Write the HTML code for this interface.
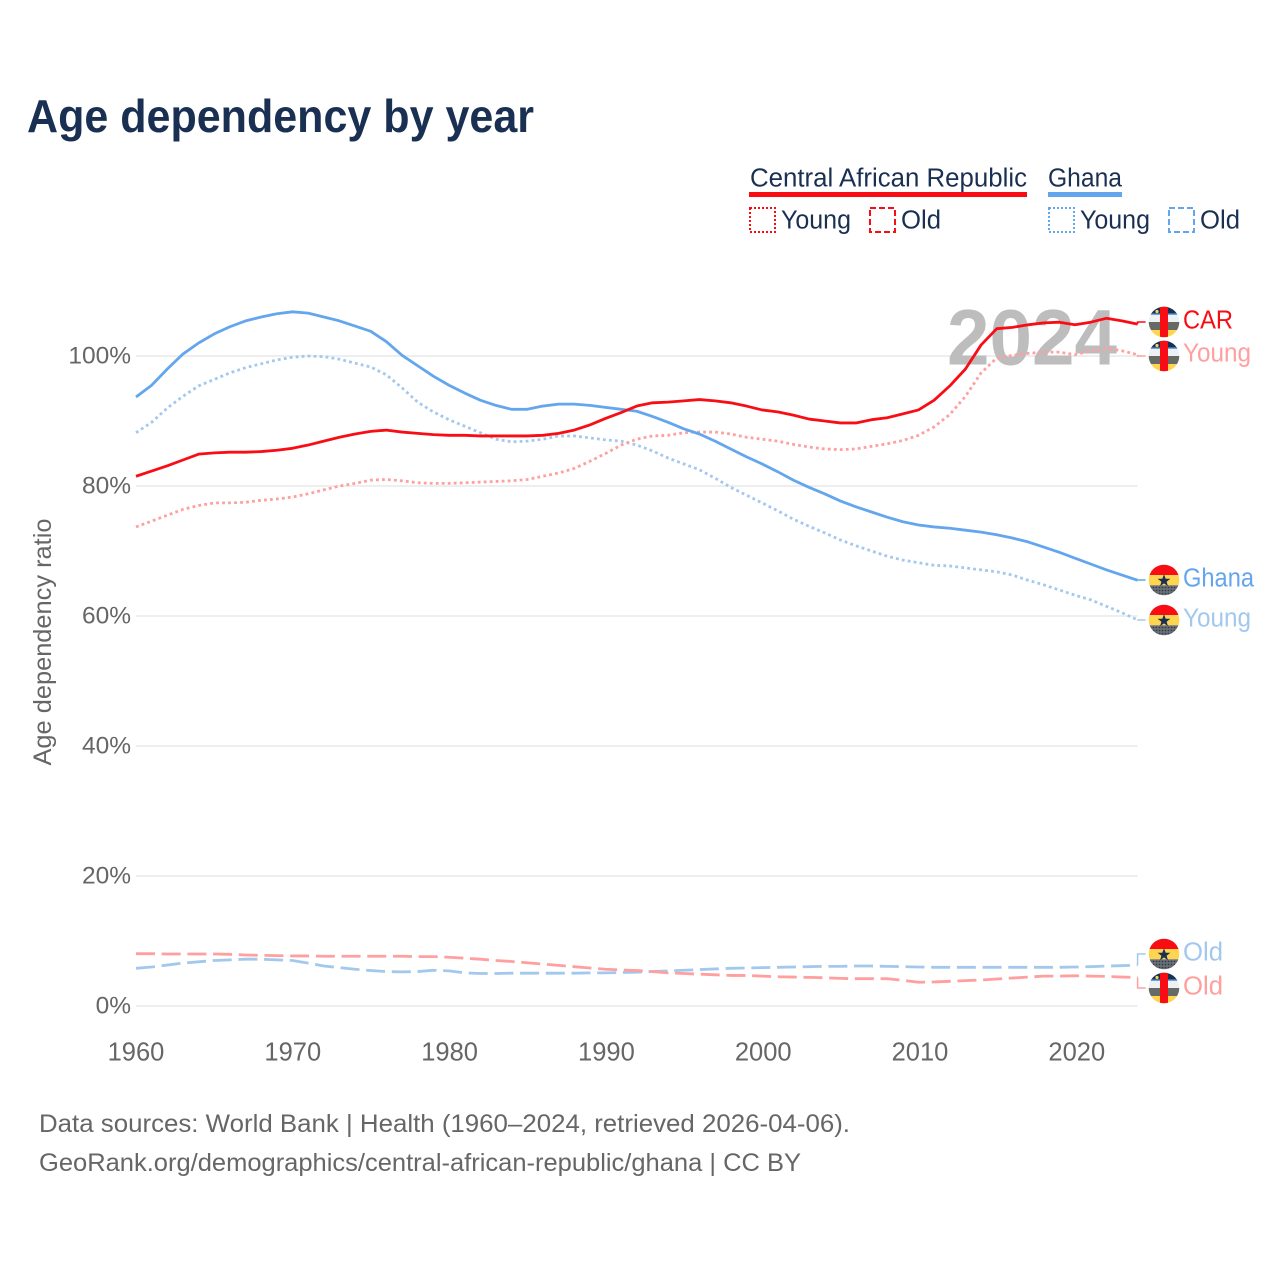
<!DOCTYPE html>
<html lang="en">
<head>
<meta charset="utf-8">
<title>Age dependency by year</title>
<style>
html,body{margin:0;padding:0;background:#fff;}
svg{display:block;}
text{font-family:"Liberation Sans",sans-serif;}
</style>
</head>
<body>
<svg id="chart" xmlns="http://www.w3.org/2000/svg" width="1280" height="1280" viewBox="0 0 1280 1280">
<defs>
  <clipPath id="flag-clip"><circle cx="0" cy="0" r="15.3"/></clipPath>
  <pattern id="flag-dots" width="3" height="3" patternUnits="userSpaceOnUse">
    <rect width="3" height="3" fill="#6d7074"/>
    <circle cx="1.5" cy="1.5" r="0.9" fill="#2f3d50"/>
  </pattern>
  <symbol id="car-flag" overflow="visible" viewBox="-16 -16 32 32" width="32" height="32">
    <g clip-path="url(#flag-clip)">
      <rect x="-16" y="-16" width="32" height="8" fill="#1a3052"/>
      <rect x="-16" y="-8.5" width="32" height="1.5" fill="#63a6ee"/>
      <rect x="-16" y="-7" width="32" height="7" fill="#eef0f2"/>
      <rect x="-16" y="0" width="32" height="8" fill="#666a66"/>
      <rect x="-16" y="8" width="32" height="8" fill="#ffd54f"/>
      <rect x="-4" y="-16" width="8" height="32" fill="#f90d15"/>
      <circle cx="-7" cy="-10.5" r="1.6" fill="#ffd54f"/>
    </g>
  </symbol>
  <symbol id="ghana-flag" overflow="visible" viewBox="-16 -16 32 32" width="32" height="32">
    <g clip-path="url(#flag-clip)">
      <rect x="-16" y="-16" width="32" height="11" fill="#f90d15"/>
      <rect x="-16" y="-5" width="32" height="10.3" fill="#ffd54f"/>
      <rect x="-16" y="5.3" width="32" height="11" fill="url(#flag-dots)"/>
      <polygon points="0,-5.8 1.7,-1.2 6.4,-1.2 2.6,1.7 4,6.2 0,3.4 -4,6.2 -2.6,1.7 -6.4,-1.2 -1.7,-1.2" fill="#1a3052"/>
    </g>
  </symbol>
</defs>

<text x="27" y="132" font-size="46" font-weight="700" fill="#1a3052" textLength="507" lengthAdjust="spacingAndGlyphs">Age dependency by year</text>

<g fill="#1a3052" font-size="25.5">
  <text x="750" y="186.5" textLength="277" lengthAdjust="spacingAndGlyphs">Central African Republic</text>
  <rect x="749" y="192" width="278" height="5" fill="#f90d15"/>
  <text x="1048" y="186.5" textLength="74" lengthAdjust="spacingAndGlyphs">Ghana</text>
  <rect x="1048" y="192" width="74" height="5" fill="#63a6ee"/>
  <rect x="750" y="208" width="25" height="24" fill="none" stroke="#f90d15" stroke-width="2" stroke-dasharray="2 2"/>
  <text x="781" y="228.5" textLength="70" lengthAdjust="spacingAndGlyphs">Young</text>
  <rect x="870" y="208" width="25" height="24" fill="none" stroke="#f90d15" stroke-width="2" stroke-dasharray="6 3"/>
  <text x="901" y="228.5" textLength="40" lengthAdjust="spacingAndGlyphs">Old</text>
  <rect x="1049" y="208" width="25" height="24" fill="none" stroke="#63a6ee" stroke-width="2" stroke-dasharray="2 2"/>
  <text x="1080" y="228.5" textLength="70" lengthAdjust="spacingAndGlyphs">Young</text>
  <rect x="1169" y="208" width="25" height="24" fill="none" stroke="#63a6ee" stroke-width="2" stroke-dasharray="6 3"/>
  <text x="1200" y="228.5" textLength="40" lengthAdjust="spacingAndGlyphs">Old</text>
</g>

<g id="grid"></g>
<g id="yticks"></g>
<g id="xticks"></g>

<text transform="translate(51,642) rotate(-90)" text-anchor="middle" font-size="25" fill="#666" textLength="247" lengthAdjust="spacingAndGlyphs">Age dependency ratio</text>

<text x="947" y="364.5" font-size="79" font-weight="700" fill="#bdbdbd" textLength="170" lengthAdjust="spacingAndGlyphs">2024</text>

<g id="series"></g>
<g id="connectors"></g>

<g>
  <use href="#car-flag" x="1148" y="306"/>
  <use href="#car-flag" x="1148" y="340"/>
  <use href="#ghana-flag" x="1148" y="564"/>
  <use href="#ghana-flag" x="1148" y="604"/>
  <use href="#ghana-flag" x="1148" y="938"/>
  <use href="#car-flag" x="1148" y="972"/>
</g>

<g font-size="25.5">
  <text x="1183" y="328.5" fill="#f90d15" textLength="50" lengthAdjust="spacingAndGlyphs">CAR</text>
  <text x="1183" y="361.5" fill="#ff9f9f" textLength="68" lengthAdjust="spacingAndGlyphs">Young</text>
  <text x="1183" y="586.5" fill="#63a6ee" textLength="71" lengthAdjust="spacingAndGlyphs">Ghana</text>
  <text x="1183" y="626.5" fill="#a3c8ee" textLength="68" lengthAdjust="spacingAndGlyphs">Young</text>
  <text x="1183" y="960.5" fill="#a3c8ee" textLength="40" lengthAdjust="spacingAndGlyphs">Old</text>
  <text x="1183" y="994.5" fill="#ff9f9f" textLength="40" lengthAdjust="spacingAndGlyphs">Old</text>
</g>

<g font-size="25" fill="#666">
  <text x="39" y="1132" textLength="811" lengthAdjust="spacingAndGlyphs">Data sources: World Bank | Health (1960–2024, retrieved 2026-04-06).</text>
  <text x="39" y="1171" textLength="762" lengthAdjust="spacingAndGlyphs">GeoRank.org/demographics/central-african-republic/ghana | CC BY</text>
</g>

<script>
const startYear = 1960;
const xTickYears = [1960, 1970, 1980, 1990, 2000, 2010, 2020];
const yTickValues = [0, 20, 40, 60, 80, 100];

const ghanaTotal = [93.7,95.5,98,100.3,102,103.4,104.5,105.4,106,106.5,106.8,106.6,106,105.4,104.6,103.8,102.2,100.1,98.5,96.9,95.5,94.3,93.2,92.4,91.8,91.8,92.3,92.6,92.6,92.4,92.1,91.8,91.5,90.7,89.8,88.8,88,86.9,85.7,84.5,83.4,82.2,80.9,79.8,78.8,77.7,76.8,76,75.2,74.5,74,73.7,73.5,73.2,72.9,72.5,72,71.4,70.6,69.8,68.9,68,67.1,66.3,65.5];
const ghanaYoung = [88.2,89.8,92,93.8,95.4,96.4,97.4,98.2,98.8,99.4,99.8,100,99.9,99.5,98.9,98.3,97.1,95.1,92.9,91.4,90.2,89.2,88.2,87.2,86.8,86.9,87.2,87.7,87.7,87.4,87.1,86.9,86.3,85.4,84.3,83.4,82.5,81.2,79.8,78.6,77.4,76.2,74.9,73.8,72.8,71.7,70.8,70,69.2,68.6,68.2,67.8,67.7,67.4,67.1,66.8,66.3,65.5,64.8,64,63.2,62.5,61.5,60.5,59.4];
const ghanaOld = [5.8,6,6.3,6.6,6.8,7,7.1,7.2,7.2,7.1,7,6.6,6.15,5.9,5.65,5.45,5.3,5.25,5.3,5.5,5.4,5.1,5,5,5.05,5.05,5.05,5.05,5.05,5.1,5.1,5.15,5.2,5.3,5.4,5.5,5.6,5.7,5.8,5.85,5.9,5.95,6,6.05,6.1,6.1,6.15,6.15,6.1,6.05,6,5.95,5.95,5.95,5.95,5.95,5.95,5.95,5.95,5.95,6,6.05,6.15,6.2,6.3];
const carTotal = [81.5,82.3,83.1,84,84.9,85.1,85.2,85.2,85.3,85.5,85.8,86.3,86.9,87.5,88,88.4,88.6,88.3,88.1,87.9,87.8,87.8,87.7,87.7,87.7,87.7,87.8,88.1,88.6,89.4,90.4,91.3,92.3,92.8,92.9,93.1,93.3,93.1,92.8,92.3,91.7,91.4,90.9,90.3,90,89.7,89.7,90.2,90.5,91.1,91.7,93.2,95.4,98,101.7,104.2,104.4,104.8,105.1,105.2,104.8,105.2,105.8,105.4,104.9];
const carYoung = [73.7,74.6,75.5,76.4,77,77.4,77.4,77.5,77.8,78,78.3,78.8,79.4,80,80.4,80.9,81,80.8,80.5,80.4,80.4,80.5,80.6,80.7,80.8,81,81.5,82,82.7,83.8,85,86.3,87.2,87.7,87.8,88.2,88.3,88.3,88,87.5,87.2,86.9,86.4,86,85.7,85.6,85.7,86.1,86.5,87,87.8,89.1,91,93.8,97.4,99.7,100.1,100.4,100.6,100.6,100.2,100.8,101.2,100.8,100.2];
const carOld = [8.05,8.05,8,8,8,8,7.95,7.85,7.8,7.75,7.7,7.7,7.65,7.65,7.65,7.65,7.65,7.65,7.6,7.6,7.5,7.35,7.2,7,6.85,6.65,6.45,6.25,6.05,5.85,5.65,5.55,5.45,5.3,5.1,5,4.9,4.8,4.7,4.7,4.6,4.5,4.45,4.4,4.35,4.25,4.2,4.2,4.2,3.95,3.65,3.7,3.8,3.9,4,4.15,4.3,4.45,4.6,4.6,4.65,4.6,4.55,4.45,4.4];

const carYoungLabelY = 356;
const carOldLabelY = 988;
const carTotalLabelY = 322;
const ghanaTotalLabelY = 580;
const ghanaYoungLabelY = 620;
const ghanaOldLabelY = 954;

const SVG_NS = 'http://www.w3.org/2000/svg';
const xScale = function (year) { return 136 + (year - startYear) * 15.65; };
const yScale = function (v) { return 1006 - v * 6.5; };

const gridGroup = document.getElementById('grid');
const yTickGroup = document.getElementById('yticks');
yTickValues.forEach(function (v) {
  const line = document.createElementNS(SVG_NS, 'line');
  
  
  line.setAttribute('x1', xScale(startYear));
  line.setAttribute('x2', xScale(2024));
  line.setAttribute('y1', yScale(v));
  line.setAttribute('y2', yScale(v));
  line.setAttribute('stroke', '#eeeeee');
  line.setAttribute('stroke-width', '2');
  gridGroup.appendChild(line);
  const t = document.createElementNS(SVG_NS, 'text');
  
  
  t.setAttribute('x', 131);
  t.setAttribute('y', yScale(v) + 7.5);
  t.setAttribute('text-anchor', 'end');
  t.setAttribute('font-size', '24.5');
  t.setAttribute('fill', '#666');
  t.textContent = v + '%';
  yTickGroup.appendChild(t);
});

const xTickGroup = document.getElementById('xticks');
xTickYears.forEach(function (y) {
  const t = document.createElementNS(SVG_NS, 'text');
  
  
  t.setAttribute('x', 136 + (y - startYear) * 15.68);
  t.setAttribute('y', 1060.5);
  t.setAttribute('text-anchor', 'middle');
  t.setAttribute('font-size', '25.5');
  t.setAttribute('fill', '#666');
  t.textContent = String(y);
  xTickGroup.appendChild(t);
});

const seriesGroup = document.getElementById('series');
function drawSeries(values, name, color, width, dash) {
  const p = document.createElementNS(SVG_NS, 'polyline');
  
  
  p.setAttribute('points', values.map(function (v, i) {
    return xScale(startYear + i).toFixed(2) + ',' + yScale(v).toFixed(2);
  }).join(' '));
  p.setAttribute('fill', 'none');
  p.setAttribute('stroke', color);
  p.setAttribute('stroke-width', width);
  p.setAttribute('stroke-linejoin', 'round');
  if (dash) p.setAttribute('stroke-dasharray', dash);
  seriesGroup.appendChild(p);
}
drawSeries(ghanaOld, 'line-ghana-old', '#a3c8ee', 2.8, '19 6.7');
drawSeries(carOld, 'line-car-old', '#ff9f9f', 2.8, '19 6.7');
drawSeries(ghanaYoung, 'line-ghana-young', '#a3c8ee', 2.8, '2.8 3.2');
drawSeries(carYoung, 'line-car-young', '#ff9f9f', 2.8, '2.8 3.2');
drawSeries(ghanaTotal, 'line-ghana-total', '#63a6ee', 2.8, '');
drawSeries(carTotal, 'line-car-total', '#f90d15', 2.8, '');

const connectorGroup = document.getElementById('connectors');
function drawConnector(values, labelY, name, color) {
  const endY = yScale(values[values.length - 1]);
  const xEnd = xScale(2024);
  const c = document.createElementNS(SVG_NS, 'polyline');
  
  
  c.setAttribute('points', xEnd + ',' + endY + ' ' + xEnd + ',' + labelY + ' ' + (xEnd + 8) + ',' + labelY);
  c.setAttribute('fill', 'none');
  c.setAttribute('stroke', color);
  c.setAttribute('stroke-width', '1.5');
  connectorGroup.appendChild(c);
}
drawConnector(carTotal, carTotalLabelY, 'connector-car-total', '#f90d15');
drawConnector(carYoung, carYoungLabelY, 'connector-car-young', '#ff9f9f');
drawConnector(ghanaTotal, ghanaTotalLabelY, 'connector-ghana-total', '#63a6ee');
drawConnector(ghanaYoung, ghanaYoungLabelY, 'connector-ghana-young', '#a3c8ee');
drawConnector(ghanaOld, ghanaOldLabelY, 'connector-ghana-old', '#a3c8ee');
drawConnector(carOld, carOldLabelY, 'connector-car-old', '#ff9f9f');
</script>
</svg>
</body>
</html>
